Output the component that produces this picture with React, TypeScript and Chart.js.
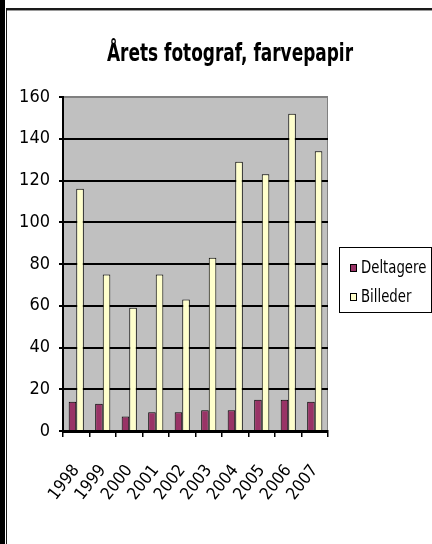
import { useEffect, useRef } from "react";
import { Chart, registerables } from "chart.js";

Chart.register(...registerables);

const categories = ["1998", "1999", "2000", "2001", "2002", "2003", "2004", "2005", "2006", "2007"];
const deltagere = [14, 13, 7, 9, 9, 10, 10, 15, 15, 14];
const billeder = [116, 75, 59, 75, 63, 83, 129, 123, 152, 134];
const seriesNames = ["Deltagere", "Billeder"];
const seriesColors = ["#993366", "#FFFFCC"];
const yMin = 0;
const yMax = 160;
const yStep = 20;
const titleText = "Årets fotograf, farvepapir";

const FONT = "'DejaVu Sans Condensed', 'DejaVu Sans', sans-serif";

const framePlugin = {
  id: "frame",
  beforeDraw(chart: any) {
    const { ctx, width, height, chartArea } = chart;
    ctx.save();
    ctx.fillStyle = "#ffffff";
    ctx.fillRect(0, 0, width, height);
    ctx.fillStyle = "#000000";
    ctx.fillRect(0, 0, 5, height);
    ctx.fillStyle = "#1a1a1a";
    ctx.fillRect(6, 8, 1, height - 8);
    ctx.fillRect(6, 8, width - 6, 2);
    ctx.fillStyle = "#9a9a9a";
    ctx.fillRect(7, 10, width - 7, 1);
    ctx.fillStyle = "#C0C0C0";
    ctx.fillRect(chartArea.left, chartArea.top, chartArea.right - chartArea.left, chartArea.bottom - chartArea.top);
    ctx.strokeStyle = "#808080";
    ctx.lineWidth = 1;
    ctx.beginPath();
    ctx.moveTo(chartArea.left, chartArea.top + 0.5);
    ctx.lineTo(chartArea.right - 0.5, chartArea.top + 0.5);
    ctx.lineTo(chartArea.right - 0.5, chartArea.bottom);
    ctx.stroke();
    ctx.restore();
  },
};

const titlePlugin = {
  id: "squeezedTitle",
  afterDraw(chart: any) {
    const { ctx } = chart;
    ctx.save();
    ctx.font = `bold 24px ${FONT}`;
    ctx.fillStyle = "#000000";
    ctx.textAlign = "center";
    ctx.textBaseline = "alphabetic";
    const w = ctx.measureText(titleText).width;
    const sx = 246 / w;
    ctx.translate(230, 61);
    ctx.scale(sx, 1);
    ctx.fillText(titleText, 0, 0);
    ctx.restore();
  },
};

const legendPlugin = {
  id: "boxLegend",
  afterDraw(chart: any) {
    const { ctx } = chart;
    ctx.save();
    ctx.strokeStyle = "#000000";
    ctx.lineWidth = 1;
    ctx.strokeRect(339.5, 247.5, 92, 65);
    chart.data.datasets.forEach((ds: any, i: number) => {
      const cy = 268 + i * 29;
      ctx.fillStyle = ds.backgroundColor;
      ctx.fillRect(350, cy - 4, 7, 8);
      ctx.strokeStyle = "#000000";
      ctx.strokeRect(350.5, cy - 3.5, 6, 7);
      ctx.fillStyle = "#000000";
      ctx.font = `18px ${FONT}`;
      ctx.textBaseline = "middle";
      ctx.textAlign = "left";
      ctx.save();
      ctx.translate(361, cy);
      ctx.scale(0.82, 1);
      ctx.fillText(ds.label, 0, 0);
      ctx.restore();
    });
    ctx.restore();
  },
};

export default function App() {
  const ref = useRef<HTMLCanvasElement | null>(null);
  useEffect(() => {
    if (!ref.current) return;
    const chart = new Chart(ref.current, {
      type: "bar",
      data: {
        labels: categories,
        datasets: [
          {
            label: seriesNames[0],
            data: deltagere,
            backgroundColor: seriesColors[0],
            borderColor: "#000000",
            borderWidth: 1,
            categoryPercentage: 0.5714,
            barPercentage: 1,
          },
          {
            label: seriesNames[1],
            data: billeder,
            backgroundColor: seriesColors[1],
            borderColor: "#000000",
            borderWidth: 1,
            categoryPercentage: 0.5714,
            barPercentage: 1,
          },
        ],
      },
      options: {
        responsive: false,
        animation: false,
        events: [],
        layout: { padding: { left: 0, right: 104, top: 97, bottom: 0 } },
        plugins: {
          legend: { display: false },
          tooltip: { enabled: false },
          title: { display: false },
        },
        scales: {
          x: {
            grid: {
              drawOnChartArea: false,
              drawTicks: true,
              tickLength: 6,
              tickColor: "#000000",
              lineWidth: 1.5,
              offset: true,
            },
            border: { color: "#000000", width: 3 },
            ticks: {
              autoSkip: false,
              maxRotation: 52,
              minRotation: 52,
              padding: 24,
              color: "#000000",
              font: { family: FONT, size: 17 },
            },
            afterFit(s: any) {
              s.height = 113;
            },
          },
          y: {
            min: yMin,
            max: yMax,
            ticks: {
              stepSize: yStep,
              color: "#000000",
              padding: 9,
              font: { family: FONT, size: 18 },
            },
            grid: {
              color: (c: any) => (c.tick && c.tick.value === yMax ? "#808080" : "#000000"),
              lineWidth: 2,
              tickLength: 4,
              tickColor: "#000000",
            },
            border: { color: "#000000", width: 2 },
            afterFit(s: any) {
              s.width = 63;
            },
          },
        },
      },
      plugins: [framePlugin, titlePlugin, legendPlugin],
    });
    return () => chart.destroy();
  }, []);
  return (
    <div style={{ position: "absolute", left: 0, top: 0, width: 432, height: 544 }}>
      <canvas ref={ref} width={432} height={544} style={{ display: "block" }} />
    </div>
  );
}
